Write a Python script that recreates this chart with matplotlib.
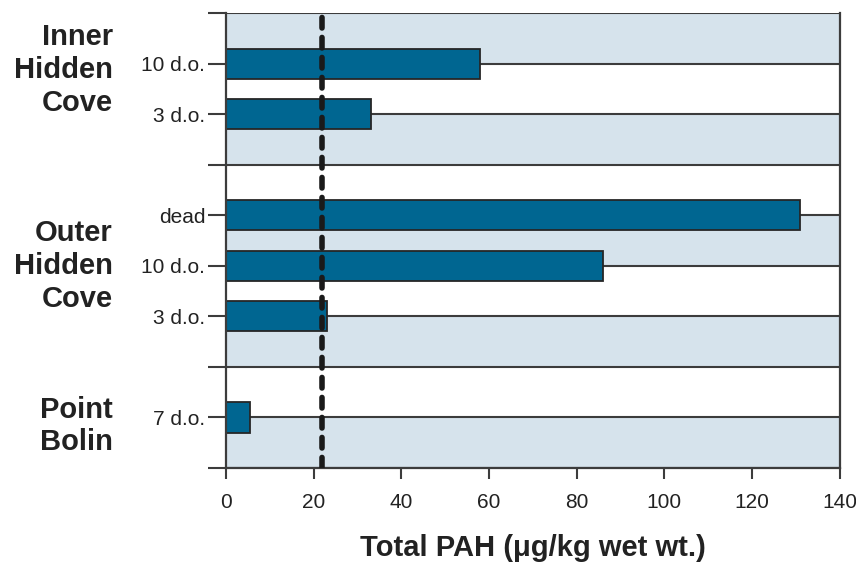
import matplotlib
matplotlib.use("Agg")
import matplotlib.pyplot as plt

# data
sites = ["Inner\nHidden\nCove", "Outer\nHidden\nCove", "Point\nBolin"]
site_rows = [7.88, 4.0, 0.83]
bar_labels = ["10 d.o.", "3 d.o.", "dead", "10 d.o.", "3 d.o.", "7 d.o."]
bar_rows = [8, 7, 5, 4, 3, 1]
pah = [58, 33, 131, 86, 23, 5.5]
threshold = 22

fig = plt.figure(figsize=(8.56, 5.72), dpi=100)
ax = fig.add_axes([0.264, 0.182, 0.717, 0.795])

band = "#d6e3ec"
line = "#3c3c3c"
txt = "#222222"
for lo in [0, 2, 4, 6, 8]:
    ax.axhspan(lo, lo + 1, color=band, zorder=0, lw=0)
for y in range(10):
    ax.axhline(y, color=line, lw=1.5, zorder=1)

ax.barh(bar_rows, pah, height=0.6, color="#006691", edgecolor="#262626",
        linewidth=1.3, zorder=2)

ax.axvline(threshold, color="#1a1a1a", lw=4, dashes=(1.9, 1.7),
           dash_capstyle="round", zorder=3)

ax.set_xlim(0, 140)
ax.set_ylim(0, 9)
ax.set_xticks(range(0, 141, 20))
ax.set_yticks(range(10))
ax.set_yticklabels([""] * 10)

ytr = ax.get_yaxis_transform()
for y, lab in zip(bar_rows, bar_labels):
    ax.annotate(lab, xy=(0, y), xycoords=ytr, xytext=(-15, -1.5),
                textcoords="offset points", ha="right", va="center",
                fontsize=15, family="Liberation Sans", color=txt)
for y, s in zip(site_rows, sites):
    ax.annotate(s, xy=(0, y), xycoords=ytr, xytext=(-81.5, 0),
                textcoords="offset points", ha="right", va="center",
                fontsize=21, fontweight="bold", family="Liberation Sans",
                color=txt, linespacing=1.22)

ax.spines["top"].set_visible(False)
for sp in ["left", "right", "bottom"]:
    ax.spines[sp].set_color(line)
    ax.spines[sp].set_linewidth(1.6)
ax.tick_params(axis="y", length=13, width=1.5, color=line, pad=0)
ax.tick_params(axis="x", length=8, width=1.5, color=line, pad=10, labelsize=15,
               labelcolor=txt)
for t in ax.get_xticklabels():
    t.set_family("Liberation Sans")

ax.set_xlabel("Total PAH (\u03bcg/kg wet wt.)", fontsize=21, fontweight="bold",
              family="Liberation Sans", color=txt, labelpad=16)

fig.savefig("out.png", dpi=100)
